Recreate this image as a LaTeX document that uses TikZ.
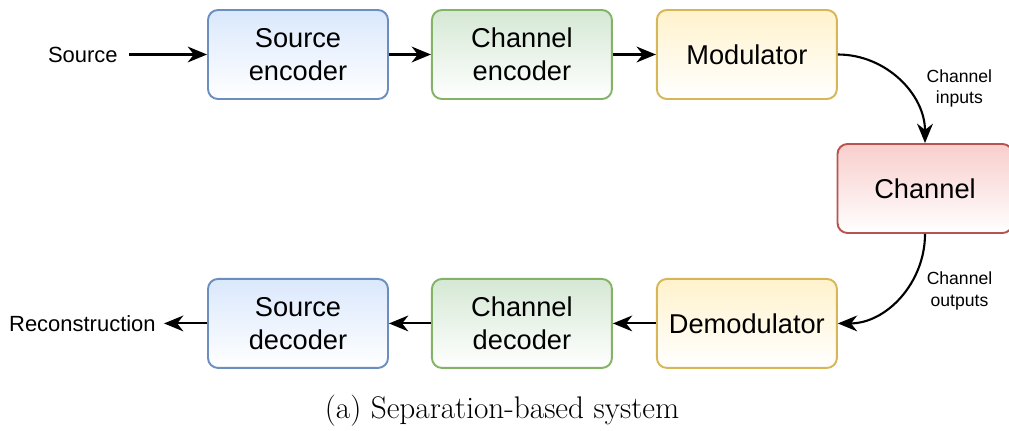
\documentclass[tikz,border=0pt]{standalone}
\usepackage{fontspec}
\newfontfamily\blockfont{Liberation Sans}
\usetikzlibrary{positioning, arrows.meta}
\definecolor{srcfill}{HTML}{DAE8FC}
\definecolor{srcline}{HTML}{6C8EBF}
\definecolor{chfill}{HTML}{D5E8D4}
\definecolor{chline}{HTML}{82B366}
\definecolor{modfill}{HTML}{FFF2CC}
\definecolor{modline}{HTML}{D6B656}
\definecolor{chanfill}{HTML}{F8CECC}
\definecolor{chanline}{HTML}{B85450}
\tikzstyle{block} = [rectangle, rounded corners=0.2cm, minimum width=3.6cm, minimum height=1.78cm, align=center, line width=1.1pt, font=\blockfont\fontsize{15.5}{18.8}\selectfont]
\tikzstyle{srcblock} = [block, draw=srcline, top color=srcfill, bottom color=white]
\tikzstyle{chblock} = [block, draw=chline, top color=chfill, bottom color=white]
\tikzstyle{modblock} = [block, draw=modline, top color=modfill, bottom color=white]
\tikzstyle{chanblock} = [block, minimum width=3.5cm, draw=chanline, top color=chanfill, bottom color=white]
\tikzstyle{ioname} = [font=\blockfont\fontsize{12.5}{15}\selectfont]
\tikzstyle{lbl} = [inner sep=0pt, anchor=west, align=center, font=\blockfont\fontsize{10}{12.3}\selectfont]
\tikzstyle{link} = [draw=black, line width=1.2pt, -{Stealth[length=11pt, width=9pt, inset=3.5pt]}]

\begin{document}
\begin{tikzpicture}
	\useasboundingbox (0,0) rectangle (20.18,-8.6);
	% transmitter chain
	\node (srcenc) [srcblock] at (5.96,-1.09) {Source\\encoder};
	\node (chenc) [chblock, right=0.84cm of srcenc] {Channel\\encoder};
	\node (mod) [modblock, right=0.86cm of chenc] {Modulator};
	\node (src) [ioname, inner sep=0.22cm, left=1.56cm of srcenc] {Source};
	% channel
	\node (chan) [chanblock] at (18.5,-3.77) {Channel};
	% receiver chain
	\node (demod) [modblock, below=3.56cm of mod] {Demodulator};
	\node (chdec) [chblock, left=0.86cm of demod] {Channel\\decoder};
	\node (srcdec) [srcblock, left=0.84cm of chdec] {Source\\decoder};
	\node (recon) [ioname, inner sep=0.16cm, left=0.86cm of srcdec] {Reconstruction};
	\node (cap) at (10.04,-8.22) {\fontsize{17.8}{20}\selectfont (a) Separation-based system};
	\draw [link] (src) -- (srcenc);
	\draw [link] (srcenc) -- (chenc);
	\draw [link] (chenc) -- (mod);
	\draw [link] (mod.east) to[out=0, in=90] node[lbl, midway, xshift=0.52cm, yshift=-0.16cm]{Channel\\inputs} (chan.north);
	\draw [link] (chan.south) to[out=-90, in=0] node[lbl, midway, xshift=0.52cm, yshift=0.12cm]{Channel\\outputs} (demod.east);
	\draw [link] (demod) -- (chdec);
	\draw [link] (chdec) -- (srcdec);
	\draw [link] (srcdec) -- (recon);
\end{tikzpicture}
\end{document}
